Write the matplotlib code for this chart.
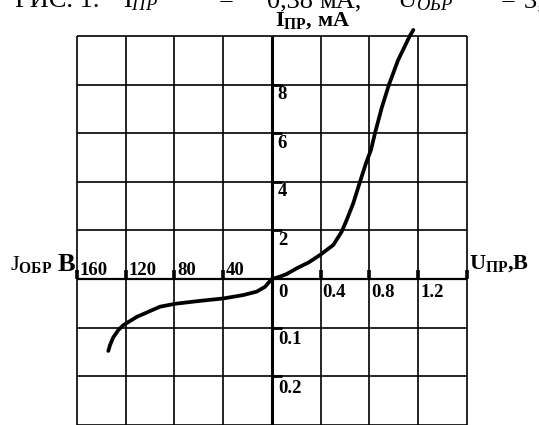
import numpy as np
import matplotlib
matplotlib.use('Agg')
from matplotlib import pyplot as plt

plt.rcParams['font.family'] = ['Liberation Serif', 'DejaVu Serif']
plt.rcParams['mathtext.fontset'] = 'custom'
plt.rcParams['mathtext.rm'] = 'Liberation Serif'
plt.rcParams['mathtext.it'] = 'Liberation Serif:italic'
plt.rcParams['mathtext.bf'] = 'Liberation Serif:bold'

# forward branch: U in V, I in mA
u_fwd = [0.0, 0.06, 0.121, 0.203, 0.3, 0.394, 0.503, 0.572, 0.613, 0.667, 0.722,
         0.771, 0.812, 0.845, 0.9, 0.96, 1.034, 1.13, 1.16]
i_fwd = [0.0, 0.09, 0.206, 0.44, 0.68, 0.988, 1.40, 1.95, 2.43, 3.12, 4.0,
         4.76, 5.31, 6.0, 7.04, 8.0, 9.0, 10.0, 10.25]
# reverse branch: U in V, I (axis units 0.1, 0.2)
u_rev = [0.0, -1.6, -5.7, -12.6, -23.5, -39.9, -59.1, -79.6, -91.9, -111.0,
         -122.0, -126.1, -130.2, -132.9, -134.3]
i_rev = [0.0, -0.004, -0.016, -0.026, -0.033, -0.040, -0.045, -0.051, -0.057, -0.078,
         -0.095, -0.105, -0.120, -0.136, -0.148]

# one grid cell on each half-axis
cell_u_fwd, cell_i_fwd = 0.4, 2.0
cell_u_rev, cell_i_rev = 40.0, 0.1

x_pos_labels = ['0.4', '0.8', '1.2']
x_neg_labels = ['160', '120', '80', '40']
y_pos_labels = ['2', '4', '6', '8']
y_neg_labels = ['0.1', '0.2']

# caption pieces (cut by the top edge in the source)
caption_parts = ['РИС. 1.', r'I$_{ПР}$', '=', '0,38', 'мА,', r'U$_{ОБР}$', '=', '3,5 мВ']
caption_x = [-5.27, -3.05, -1.1, -0.1, 0.98, 2.56, 4.68, 5.17]

fig = plt.figure(figsize=(5.39, 4.25), dpi=100)
ax = fig.add_axes([0, 0, 1, 1])
ax.set_xlim(-5.579, 5.477)
ax.set_ylim(-3.004, 5.741)
ax.set_axis_off()

# grid
for k in range(-4, 5):
    if k != 0:
        ax.plot([k, k], [-3.1, 5], color='black', lw=1.2, solid_capstyle='butt')
for k in range(-3, 6):
    if k != 0:
        ax.plot([-4, 4], [k, k], color='black', lw=1.2, solid_capstyle='butt')

# main axes
ax.plot([0, 0], [-3.1, 5], color='black', lw=2.2, solid_capstyle='butt')
ax.plot([-4, 4], [0, 0], color='black', lw=1.6, solid_capstyle='butt')

# small tick marks
for k in [-4, -3, -2, -1, 1, 2, 3, 4]:
    ax.plot([k, k], [0, 0.18], color='black', lw=2.6, solid_capstyle='butt')
for k in [-2, -1, 1, 2, 3, 4]:
    ax.plot([0, 0.2], [k, k], color='black', lw=2.0, solid_capstyle='butt')

# curve
xf = np.array(u_fwd) / cell_u_fwd
yf = np.array(i_fwd) / cell_i_fwd
xr = np.array(u_rev) / cell_u_rev
yr = np.array(i_rev) / cell_i_rev
ax.plot(np.concatenate([xr[::-1], xf]), np.concatenate([yr[::-1], yf]),
        color='black', lw=2.7, solid_capstyle='round', solid_joinstyle='round',
        clip_on=False)

fs = 13.5
# x tick labels
for k, lab in zip([-4, -3, -2, -1], x_neg_labels):
    ax.text(k + 0.05, 0.08, lab, fontsize=fs, fontweight='bold', ha='left', va='baseline')
ax.text(0.12, -0.1, '0', fontsize=fs, fontweight='bold', ha='left', va='top')
for k, lab in zip([1, 2, 3], x_pos_labels):
    ax.text(k + 0.04, -0.1, lab, fontsize=fs, fontweight='bold', ha='left', va='top')
# y tick labels
for k, lab in zip([1, 2, 3, 4], y_pos_labels):
    ax.text(0.12, k - 0.03, lab, fontsize=fs, fontweight='bold', ha='left', va='top')
for k, lab in zip([-1, -2], y_neg_labels):
    ax.text(0.12, k - 0.08, lab, fontsize=fs, fontweight='bold', ha='left', va='top')

# axis titles
ax.text(0.84, 5.31, r'I$_{\mathbf{ПР}}$, мА', fontsize=16, fontweight='bold', ha='center', va='center')
ax.text(4.05, 0.32, r'U$_{\mathbf{ПР}}$,В', fontsize=16, fontweight='bold', ha='left', va='center')
ax.text(-5.37, 0.3, r'J$_{\mathbf{ОБР}}$', fontsize=16, ha='left', va='center')
ax.text(-4.4, 0.3, 'В', fontsize=19, fontweight='bold', ha='left', va='center')

for x, part in zip(caption_x, caption_parts):
    ax.text(x, 5.72, part, fontsize=19, ha='left', va='center')

fig.savefig('out.png', dpi=100)
plt.close('all')
